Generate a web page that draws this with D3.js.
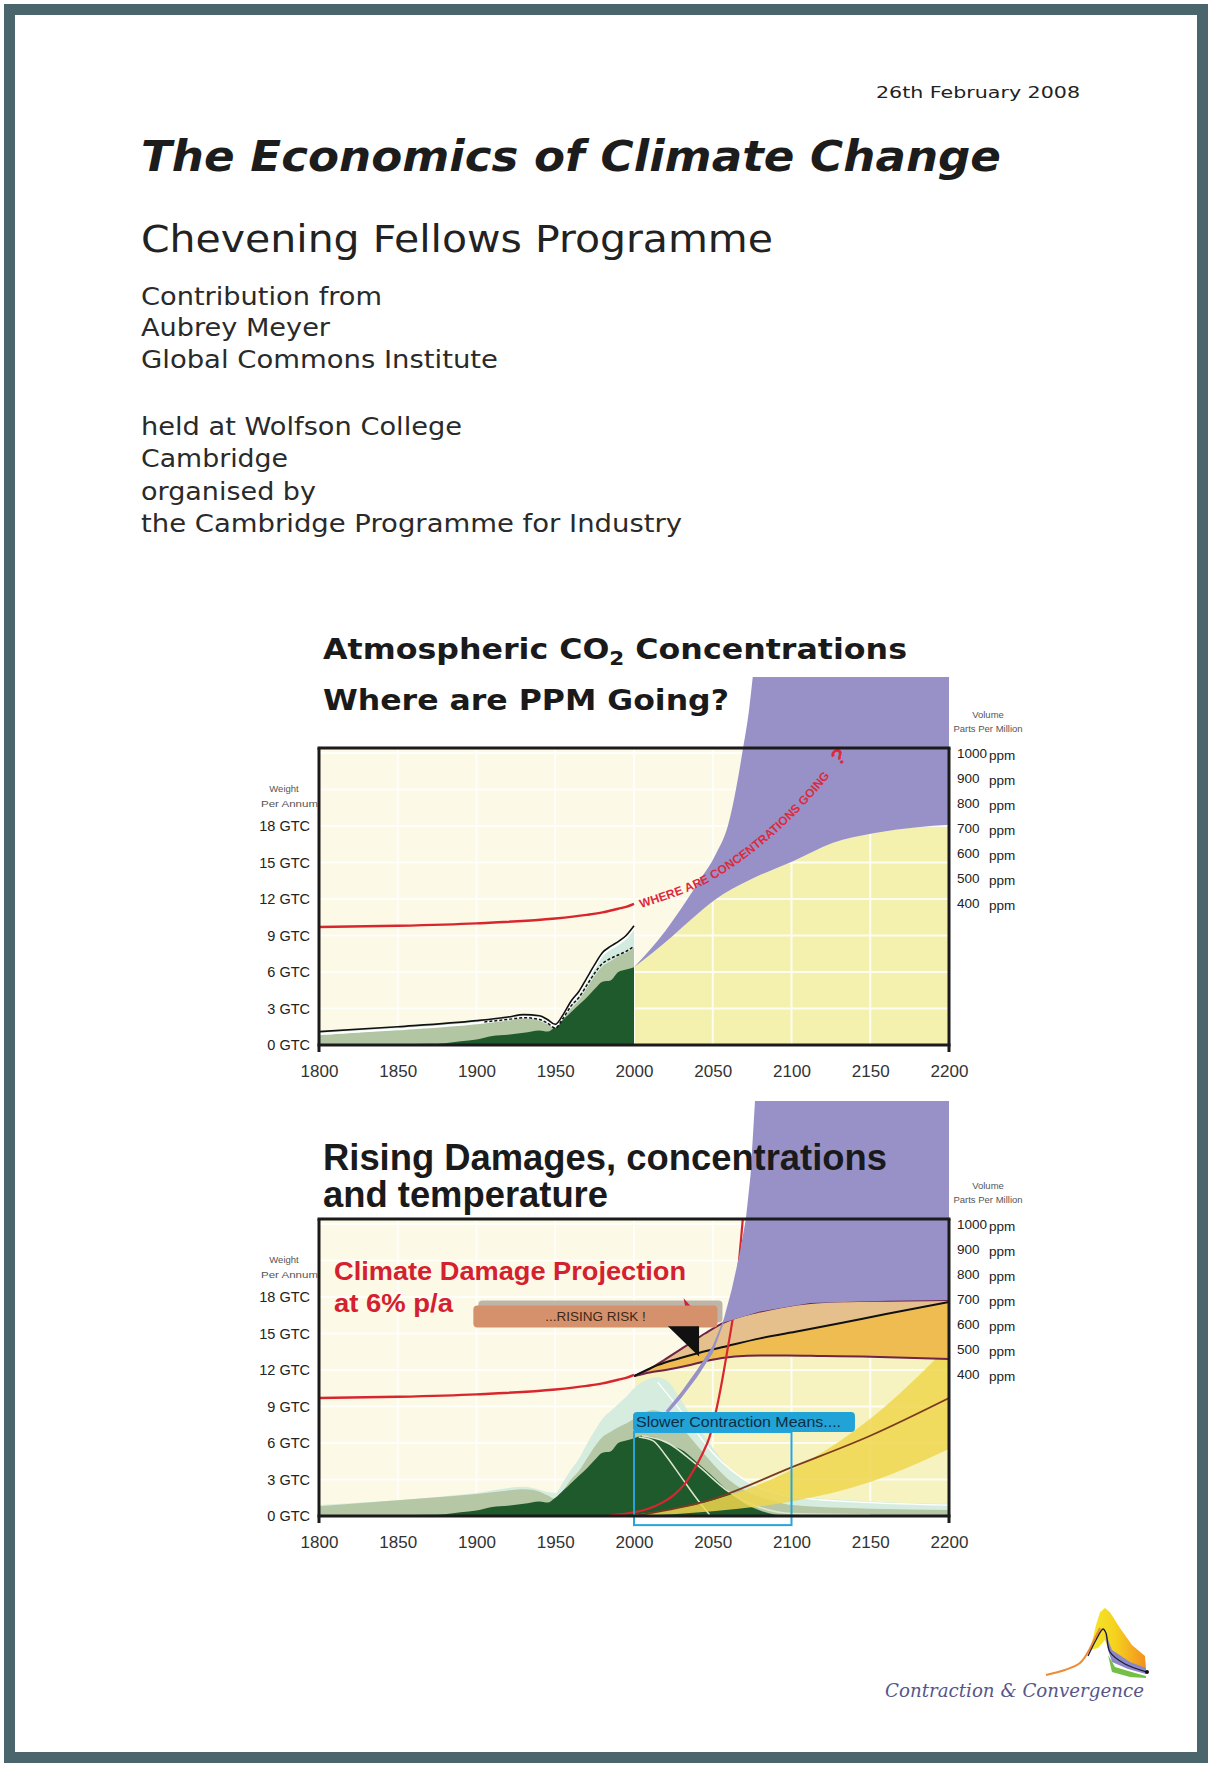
<!DOCTYPE html>
<html><head><meta charset="utf-8">
<script src="https://cdn.jsdelivr.net/npm/d3@7"></script>
<style>
html,body{margin:0;padding:0;background:#fff;}
svg{display:block;}
</style></head><body>
<svg id="c" width="1214" height="1766"></svg>
<script>
// ---------------- DATA ----------------
const yearTicks = [1800,1850,1900,1950,2000,2050,2100,2150,2200];
const gtcTicks = [0,3,6,9,12,15,18];
const gridGtc = [3,6,9,12,15,18,21,24];
const gridYears = [1850,1900,1950,2000,2050,2100,2150];
const ppmTicks = [1000,900,800,700,600,500,400];

// historical emissions (GtC per annum)
const fossilHist = [[1800,0],[1850,0.05],[1870,0.1],[1880,0.15],[1890,0.3],[1900,0.45],[1910,0.75],[1920,0.85],[1930,1.0],[1940,1.2],[1945,1.1],[1950,1.5],[1955,2.1],[1960,2.7],[1965,3.3],[1970,3.9],[1975,4.6],[1980,5.2],[1985,5.3],[1990,6.0],[1995,6.2],[2000,6.4]];
const totalHist = [[1800,0.8],[1850,1.3],[1900,1.8],[1920,2.1],[1930,2.2],[1940,2.0],[1945,1.7],[1950,1.4],[1955,2.1],[1960,3.0],[1965,3.7],[1970,4.7],[1975,5.7],[1980,6.5],[1985,6.9],[1990,7.3],[1995,7.6],[2000,8.0]];
const blackSolid = [[1800,1.1],[1850,1.5],[1900,2.0],[1920,2.3],[1930,2.5],[1940,2.4],[1945,2.1],[1950,1.7],[1955,2.5],[1960,3.6],[1965,4.4],[1970,5.5],[1975,6.6],[1980,7.6],[1985,8.1],[1990,8.5],[1995,9.0],[2000,9.8]];
const blackDashed = [[1905,1.9],[1920,2.1],[1930,2.25],[1940,2.1],[1945,1.8],[1950,1.4],[1955,2.2],[1960,3.2],[1965,3.9],[1970,4.9],[1975,5.9],[1980,6.7],[1985,7.1],[1990,7.4],[1995,7.7],[2000,8.1]];
const concHist = [[1800,9.7],[1850,9.8],[1900,10.0],[1950,10.4],[1970,10.7],[1980,10.9],[1990,11.2],[1995,11.35],[2000,11.6]];

// chart 1 projections
const yellowTop1 = [[2000,6.4],[2012,7.6],[2024,8.9],[2037,10.4],[2051,11.9],[2074,13.6],[2101,15.1],[2126,16.6],[2152,17.4],[2180,17.9],[2200,18.1]];
const purpleEdge1 = [[2000,6.4],[2010,7.8],[2020,9.4],[2032,11.6],[2042,13.6],[2052,15.7],[2060,18.2],[2065,21.2],[2069,24.2],[2073,27.5],[2076,31]];
const whereCurve = [[2002,11.5],[2042,13.4],[2075,16.2],[2104,19.6],[2128,23.2]];

// chart 2 projections
const fossilFuture2 = [[2005,6.6],[2012,6.5],[2020,6.0],[2032,5.3],[2040,4.4],[2048,3.5],[2056,2.5],[2064,1.6],[2072,0.9],[2080,0.45],[2090,0.1],[2100,0]];
const totalFuture2 = [[2005,8.4],[2012,8.7],[2020,8.4],[2030,7.3],[2040,5.8],[2050,4.3],[2060,3.0],[2075,1.8],[2090,1.2],[2100,0.9],[2150,0.6],[2200,0.5]];
const mint2 = [[1800,0.9],[1900,1.9],[1930,2.4],[1950,1.9],[1955,2.8],[1960,3.8],[1965,4.7],[1970,5.9],[1975,7.0],[1980,8.0],[1985,8.6],[1990,9.2],[1995,9.8],[2000,10.5],[2008,11.2],[2015,11.4],[2022,11.0],[2030,9.5],[2040,7.5],[2050,5.6],[2060,4.0],[2070,3.0],[2085,2.2],[2100,1.7],[2150,1.2],[2200,1.0]];
const fastContraction = [[2003,6.5],[2012,6.2],[2020,5.0],[2030,3.2],[2040,1.4],[2048,0.1]];
const slowContraction = [[2005,6.6],[2020,6.1],[2040,4.2],[2060,2.0],[2080,0.7],[2100,0.2],[2150,0.1]];
const mintLine2 = [[2015,11.0],[2030,8.6],[2050,5.2],[2075,2.6],[2100,1.6],[2150,1.1],[2200,0.9]];
const fanUpper = [[2000,11.5],[2010,12.1],[2020,12.9],[2032,13.9],[2045,15.0],[2057,15.9],[2070,16.5],[2080,16.8],[2095,17.2],[2112,17.5],[2135,17.65],[2161,17.7],[2200,17.75]];
const fanMid = [[2000,11.5],[2015,12.4],[2030,13.0],[2041,13.4],[2060,14.0],[2080,14.6],[2105,15.2],[2129,15.8],[2160,16.6],[2200,17.6]];
const fanLower = [[2000,11.5],[2010,11.8],[2020,12.0],[2032,12.3],[2048,12.8],[2064,13.1],[2080,13.2],[2097,13.2],[2120,13.15],[2145,13.1],[2200,12.9]];
const purpleEdge2 = [[2020,8.6],[2030,10.2],[2040,12.0],[2050,14.0],[2057,16.2],[2062,18.6],[2067,21.5],[2071,24.4],[2074,28],[2077,34.5]];
const purpleLower2 = [[2200,17.75],[2161,17.7],[2112,17.5],[2080,16.8],[2057,15.9],[2050,13.4],[2040,11.4],[2030,9.7],[2022,8.5]];
const bandUpper = [[2000,0.1],[2050,1.3],[2100,3.8],[2150,8.0],[2200,14.0]];
const bandLower = [[2000,0],[2050,0.4],[2100,1.2],[2150,2.8],[2200,5.5]];
const brownLine = [[2000,0],[2048,1.3],[2100,4.0],[2150,6.6],[2200,9.7]];
const damage6pc = [[1985,0.05],[1995,0.2],[2009,0.6],[2018,1.1],[2025,1.7],[2032,2.6],[2038,3.8],[2043,5.0],[2048,6.5],[2054,9.8],[2059,13.4],[2064,17.5],[2069,24.3],[2072,29]];
const riskPointer = [[2021.5,15.6],[2041.3,15.6],[2041.3,13.1]];
const riskFlag = [[2031.5,17.9],[2033,16.9],[2038.5,16.9]];
const riskBox = [1898, 2053, 17.3, 15.5];
const slowBox = [1999.4, 2140.3, 8.55, 6.9];
const slowRect = [2000, 2100, 6.9, -0.75];

// logo (local 0-100 units)
const logoOrange = [[0,2.8],[18.6,9.7],[33.3,19.4],[41.2,34.7],[48,54],[53,68]];
const logoPeak = [[43.1,37.5],[49,72],[53,90],[57.8,95.8],[62.7,90],[72.5,68],[84.3,44.4],[97,29],[98,12.5],[82.4,12.5],[64.7,23.6],[57.8,51.4],[51,40.3]];
const logoLav = [[57.8,62.5],[64.7,37.5],[82.4,20.8],[98,12.5],[98,4.2],[80.4,11.1],[64.7,20.8],[60.8,37.5]];
const logoGreen = [[60.8,30.6],[67.6,13.9],[87.3,5.6],[98,1.4],[98,-1.4],[82.4,0],[64.7,6.9]];
const logoBlack = [[41.2,29.2],[49,51.4],[55.9,66.7],[58.8,61.1],[62.7,34.7],[77.5,18],[99,6.9]];

// ---------------- DRAW ----------------
const svg = d3.select("#c");
const SANS = "'Liberation Sans', Arial, sans-serif";
const DV = "'DejaVu Sans', Verdana, sans-serif";
const defs = svg.append("defs");

svg.append("rect").attr("x",9.5).attr("y",9.5).attr("width",1193).attr("height",1748)
  .attr("fill","#fff").attr("stroke","#4a656c").attr("stroke-width",11);

const X = d3.scaleLinear().domain([1800,2200]).range([319,949]);

function txt(x,y,s,size,opts={}){
  const t = svg.append("text").attr("x",x).attr("y",y).text(s)
    .attr("font-size",size).attr("font-family",opts.family||DV)
    .attr("fill",opts.fill||"#1a1a1a");
  if(opts.weight) t.attr("font-weight",opts.weight);
  if(opts.style) t.attr("font-style",opts.style);
  if(opts.anchor) t.attr("text-anchor",opts.anchor);
  if(opts.len) t.attr("textLength",opts.len).attr("lengthAdjust","spacingAndGlyphs");
  return t;
}

// header
txt(876,98,"26th February 2008",16,{len:204,fill:"#222"});
txt(141,171,"The Economics of Climate Change",42,{weight:"bold",style:"italic",len:860,fill:"#1c1c1c"});
txt(141,252,"Chevening Fellows Programme",37,{len:632,fill:"#222"});
const body = ["Contribution from","Aubrey Meyer","Global Commons Institute","held at Wolfson College","Cambridge","organised by","the Cambridge Programme for Industry"];
const bodyY = [305,336,368,435,467,500,532];
const bodyW = [241,189,357,321,147,175,541];
body.forEach((s,i)=>txt(141,bodyY[i],s,25,{len:bodyW[i],fill:"#2a2a2a"}));

function makeChart(cfg){
  const Y = d3.scaleLinear().domain([0,18]).range([cfg.bottom, cfg.bottom-219]);
  const P = d3.scaleLinear().domain([400,1000]).range([cfg.bottom-142, cfg.bottom-292]);
  const g = svg.append("g");
  const id = cfg.id;
  defs.append("clipPath").attr("id","plot"+id).append("rect")
    .attr("x",319).attr("y",cfg.top).attr("width",630).attr("height",cfg.bottom-cfg.top);
  defs.append("clipPath").attr("id","pur"+id).append("rect")
    .attr("x",319).attr("y",cfg.purpleTop).attr("width",630).attr("height",cfg.bottom-cfg.purpleTop);
  const line = d3.line().x(d=>X(d[0])).y(d=>Y(d[1])).curve(d3.curveMonotoneX);
  const area0 = d3.area().x(d=>X(d[0])).y0(Y(0)).y1(d=>Y(d[1])).curve(d3.curveMonotoneX);
  g.append("rect").attr("x",319).attr("y",cfg.top).attr("width",630).attr("height",cfg.bottom-cfg.top).attr("fill","#fcf9e6");
  const plot = g.append("g").attr("clip-path",`url(#plot${id})`);
  function grid(parent){
    const gg = parent.append("g").attr("stroke","#ffffff").attr("stroke-width",2).attr("opacity",0.85);
    gg.selectAll("line.h").data(gridGtc).join("line").attr("x1",319).attr("x2",949).attr("y1",d=>Y(d)).attr("y2",d=>Y(d));
    gg.selectAll("line.v").data(gridYears).join("line").attr("y1",cfg.top).attr("y2",cfg.bottom).attr("x1",d=>X(d)).attr("x2",d=>X(d));
  }
  return {Y,P,g,plot,line,area0,grid};
}

function frameAndAxes(c, cfg){
  const {Y,P,g} = c;
  const fr = g.append("g").attr("stroke","#1b1b1b").attr("stroke-width",3);
  fr.append("line").attr("x1",317.5).attr("x2",950.5).attr("y1",cfg.top).attr("y2",cfg.top);
  fr.append("line").attr("x1",317.5).attr("x2",950.5).attr("y1",cfg.bottom).attr("y2",cfg.bottom);
  fr.append("line").attr("x1",319).attr("x2",319).attr("y1",cfg.top).attr("y2",cfg.bottom+7);
  fr.append("line").attr("x1",949).attr("x2",949).attr("y1",cfg.top).attr("y2",cfg.bottom+7);
  const ax = g.append("g").attr("transform",`translate(0,${cfg.bottom})`)
    .call(d3.axisBottom(X).tickValues(yearTicks).tickFormat(d3.format("d")).tickSize(0).tickPadding(20));
  ax.select(".domain").remove();
  ax.selectAll("text").attr("font-size",17).attr("font-family",SANS).attr("fill","#333");
  const ay = g.append("g").attr("transform","translate(310,0)")
    .call(d3.axisLeft(Y).tickValues(gtcTicks).tickFormat(d=>d+" GTC").tickSize(0).tickPadding(0));
  ay.select(".domain").remove();
  ay.selectAll("text").attr("font-size",14.5).attr("font-family",SANS).attr("fill","#222");
  g.selectAll("text.pn").data(ppmTicks).join("text").attr("class","pn")
    .attr("x",957).attr("y",d=>P(d)+5).text(d=>d).attr("font-size",13.5).attr("font-family",SANS).attr("fill","#222");
  g.selectAll("text.pu").data(ppmTicks).join("text").attr("class","pu")
    .attr("x",989).attr("y",d=>P(d)+7).text("ppm").attr("font-size",13.5).attr("font-family",SANS).attr("fill","#222");
  const t1 = cfg.bottom-330;
  g.append("text").attr("x",988).attr("y",t1+3).attr("text-anchor","middle").text("Volume").attr("font-size",9.5).attr("font-family",SANS).attr("fill","#555");
  g.append("text").attr("x",988).attr("y",t1+17).attr("text-anchor","middle").text("Parts Per Million").attr("font-size",9.5).attr("font-family",SANS).attr("fill","#555");
  g.append("text").attr("x",284).attr("y",t1+77).attr("text-anchor","middle").text("Weight").attr("font-size",9.5).attr("font-family",SANS).attr("fill","#555");
  g.append("text").attr("x",318).attr("y",t1+92).attr("text-anchor","end").text("Per Annum").attr("font-size",9.5).attr("font-family",SANS).attr("fill","#555")
    .attr("textLength",57).attr("lengthAdjust","spacingAndGlyphs");
}

// ===== Chart 1 =====
const cfg1 = {id:1, top:748, bottom:1045, purpleTop:677};
const c1 = makeChart(cfg1);
{
  const {Y,plot,line,area0,g} = c1;
  plot.append("path").datum(yellowTop1).attr("d",area0).attr("fill","#f4f1ae");
  const purPath = line(purpleEdge1) + "L" + X(2200) + "," + Y(31) + "L" + X(2200) + "," + Y(18.1) +
     line(yellowTop1.slice().reverse()).replace(/^M/,"L") + "Z";
  g.append("path").attr("clip-path","url(#pur1)").attr("d",purPath).attr("fill","#9891c8");
  c1.grid(plot);
  plot.append("path").datum(totalHist).attr("d",area0).attr("fill","#b3c6a3");
  const band = d3.area().x(d=>X(d[0])).y0((d,i)=>Y(totalHist[i][1])).y1(d=>Y(d[1])).curve(d3.curveMonotoneX);
  plot.append("path").datum(blackSolid).attr("d",band).attr("fill","#d3eadf");
  plot.append("path").datum(fossilHist).attr("d",area0).attr("fill","#1f5a2c");
  plot.append("path").datum(blackSolid).attr("d",line).attr("fill","none").attr("stroke","#fff").attr("stroke-width",2).attr("transform","translate(0,2.5)");
  plot.append("path").datum(blackSolid).attr("d",line).attr("fill","none").attr("stroke","#111").attr("stroke-width",1.6);
  plot.append("path").datum(blackDashed).attr("d",line).attr("fill","none").attr("stroke","#111").attr("stroke-width",1.5).attr("stroke-dasharray","3,2");
  plot.append("path").datum(concHist).attr("d",line).attr("fill","none").attr("stroke","#d9262e").attr("stroke-width",2.4);
  defs.append("path").attr("id","whereP").attr("d",d3.line().x(d=>X(d[0])).y(d=>Y(d[1])).curve(d3.curveCatmullRom)(whereCurve));
  g.append("text").attr("font-size",12).attr("font-weight","bold").attr("font-family",SANS).attr("fill","#dc2a3c")
    .attr("dy",4).append("textPath").attr("href","#whereP").attr("startOffset",3).text("WHERE ARE CONCENTRATIONS GOING");
  const last = whereCurve[whereCurve.length-1];
  g.append("text").attr("x",X(last[0])+2).attr("y",Y(last[1])+4).attr("font-size",22).attr("font-weight","bold")
    .attr("font-family",SANS).attr("fill","#dc2a3c").attr("transform",`rotate(-35,${X(last[0])+2},${Y(last[1])+4})`).text("?");
  frameAndAxes(c1,cfg1);
}
// titles chart 1
{
  const t = svg.append("text").attr("x",323).attr("y",659).attr("font-size",28).attr("font-weight","bold")
    .attr("font-family",DV).attr("fill","#1a1a1a").attr("textLength",584).attr("lengthAdjust","spacingAndGlyphs");
  t.append("tspan").text("Atmospheric CO");
  t.append("tspan").attr("font-size",19).attr("dy",6).text("2");
  t.append("tspan").attr("dy",-6).text(" Concentrations");
  txt(323,710,"Where are PPM Going?",28,{weight:"bold",len:406});
}

// ===== Chart 2 =====
const cfg2 = {id:2, top:1219, bottom:1516, purpleTop:1101};
const c2 = makeChart(cfg2);
{
  const {Y,plot,line,area0,g} = c2;
  plot.append("path").datum(fanLower).attr("d",area0).attr("fill","#f6f3c0");
  c2.grid(plot);
  plot.append("path").datum(mint2).attr("d",area0).attr("fill","#d6ecdf");
  plot.append("path").datum(totalHist.concat(totalFuture2)).attr("d",area0).attr("fill","#b5c7a5");
  plot.append("path").datum(fossilHist.concat(fossilFuture2)).attr("d",area0).attr("fill","#1f5a2c");
  [fastContraction, slowContraction].forEach(a=>plot.append("path").datum(a).attr("d",line).attr("fill","none").attr("stroke","#dfe8cf").attr("stroke-width",1.5));
  plot.append("path").datum(mintLine2).attr("d",line).attr("fill","none").attr("stroke","#ffffff").attr("stroke-width",1.3);
  // purple
  const pp = "M" + purpleEdge2.map(d=>X(d[0])+","+Y(d[1])).join("L") + "L" + X(2200)+","+Y(34.5) + "L" + purpleLower2.map(d=>X(d[0])+","+Y(d[1])).join("L") + "Z";
  const purG = g.append("g").attr("clip-path","url(#pur2)");
  purG.append("path").attr("d",pp).attr("fill","#9891c8");
  // lighter strip where the purple passes over the emissions
  defs.append("clipPath").attr("id","purShape2").append("path").attr("d",pp);
  const pg = plot.append("g").attr("clip-path","url(#purShape2)");
  pg.append("path").datum(mint2).attr("d",area0).attr("fill","#ffffff").attr("opacity",0.35);
  c2.grid(pg);
  // yellow band
  const bandA = d3.area().x(d=>X(d[0])).y0((d,i)=>Y(bandLower[i][1])).y1(d=>Y(d[1])).curve(d3.curveMonotoneX);
  plot.append("path").datum(bandUpper).attr("d",bandA).attr("fill","#f0d64e").attr("opacity",0.85);
  plot.append("path").datum(brownLine).attr("d",line).attr("fill","none").attr("stroke","#7a3b1e").attr("stroke-width",1.8);
  // fan
  const fanA1 = d3.area().x(d=>X(d[0])).y0((d,i)=>Y(fanMid[i][1])).y1(d=>Y(d[1])).curve(d3.curveMonotoneX);
  const upI = d3.scaleLinear().domain(fanUpper.map(e=>e[0])).range(fanUpper.map(e=>e[1]));
  const loI = d3.scaleLinear().domain(fanLower.map(e=>e[0])).range(fanLower.map(e=>e[1]));
  const fanUpperI = fanMid.map(d=>[d[0], upI(d[0])]);
  const fanLowerI = fanMid.map(d=>[d[0], loI(d[0])]);
  plot.append("path").datum(fanUpperI).attr("d",fanA1).attr("fill","#e6c08c");
  const fanA2 = d3.area().x(d=>X(d[0])).y0((d,i)=>Y(fanLowerI[i][1])).y1(d=>Y(d[1])).curve(d3.curveMonotoneX);
  plot.append("path").datum(fanMid).attr("d",fanA2).attr("fill","#efbc52");
  plot.append("path").datum(fanUpper).attr("d",line).attr("fill","none").attr("stroke","#6e2347").attr("stroke-width",2);
  plot.append("path").datum(fanLower).attr("d",line).attr("fill","none").attr("stroke","#6e2347").attr("stroke-width",2);
  plot.append("path").datum(fanMid).attr("d",line).attr("fill","none").attr("stroke","#111").attr("stroke-width",2);
  plot.append("path").datum(concHist).attr("d",line).attr("fill","none").attr("stroke","#d9262e").attr("stroke-width",2.4);
  plot.append("path").datum(damage6pc).attr("d",line).attr("fill","none").attr("stroke","#d9262e").attr("stroke-width",2.2);
  // blue box
  g.append("rect").attr("x",X(slowRect[0])).attr("y",Y(slowRect[2])).attr("width",X(slowRect[1])-X(slowRect[0]))
    .attr("height",Y(slowRect[3])-Y(slowRect[2])).attr("fill","none").attr("stroke","#27a5da").attr("stroke-width",2);
  g.append("rect").attr("x",X(slowBox[0])).attr("y",Y(slowBox[2])).attr("width",X(slowBox[1])-X(slowBox[0]))
    .attr("height",Y(slowBox[3])-Y(slowBox[2])).attr("rx",4).attr("fill","#22a3d8");
  g.append("text").attr("x",X(slowBox[0])+3).attr("y",(Y(slowBox[2])+Y(slowBox[3]))/2+5).text("Slower Contraction Means....")
    .attr("font-size",14.5).attr("font-family",SANS).attr("fill","#0f2d44").attr("textLength",205).attr("lengthAdjust","spacingAndGlyphs");
  // risk label
  g.append("rect").attr("x",X(riskBox[0])+5).attr("y",Y(riskBox[2])-5).attr("width",X(riskBox[1])-X(riskBox[0]))
    .attr("height",Y(riskBox[3])-Y(riskBox[2])).attr("rx",4).attr("fill","#bdb5aa");
  g.append("path").attr("d","M"+riskFlag.map(d=>X(d[0])+","+Y(d[1])).join("L")+"Z").attr("fill","#c8243a");
  g.append("rect").attr("x",X(riskBox[0])).attr("y",Y(riskBox[2])).attr("width",X(riskBox[1])-X(riskBox[0]))
    .attr("height",Y(riskBox[3])-Y(riskBox[2])).attr("rx",4).attr("fill","#d4916b");
  g.append("text").attr("x",(X(riskBox[0])+X(riskBox[1]))/2).attr("y",(Y(riskBox[2])+Y(riskBox[3]))/2+5)
    .attr("text-anchor","middle").text("...RISING RISK !").attr("font-size",13.5).attr("font-family",SANS).attr("fill","#3d2818");
  g.append("path").attr("d","M"+riskPointer.map(d=>X(d[0])+","+Y(d[1])).join("L")+"Z").attr("fill","#111");
  frameAndAxes(c2,cfg2);
}
txt(323,1170,"Rising Damages, concentrations",36,{family:SANS,weight:"bold",len:564});
txt(323,1207,"and temperature",36,{family:SANS,weight:"bold",len:285});
txt(334,1280,"Climate Damage Projection",26,{family:SANS,weight:"bold",len:352,fill:"#d4202f"});
txt(334,1312,"at 6% p/a",26,{family:SANS,weight:"bold",len:119,fill:"#d4202f"});

// ===== Logo =====
{
  const lx = d3.scaleLinear().domain([0,100]).range([1046,1148]);
  const ly = d3.scaleLinear().domain([0,100]).range([1677,1605]);
  const grad = defs.append("linearGradient").attr("id","lg").attr("x1","0").attr("x2","1").attr("y1","0").attr("y2","0");
  grad.append("stop").attr("offset","0").attr("stop-color","#f2ea2c");
  grad.append("stop").attr("offset","0.45").attr("stop-color","#f5d21e");
  grad.append("stop").attr("offset","1").attr("stop-color","#f2901e");
  const poly = a => "M"+a.map(d=>lx(d[0])+","+ly(d[1])).join("L")+"Z";
  const pl = d3.line().x(d=>lx(d[0])).y(d=>ly(d[1])).curve(d3.curveCatmullRom);
  svg.append("path").attr("d",poly(logoPeak)).attr("fill","url(#lg)");
  svg.append("path").attr("d",poly(logoLav)).attr("fill","#8c88c6");
  svg.append("path").attr("d",poly(logoGreen)).attr("fill","#74bf45");
  svg.append("path").attr("d",pl(logoOrange)).attr("fill","none").attr("stroke","#f08a34").attr("stroke-width",2);
  svg.append("path").attr("d",pl(logoBlack)).attr("fill","none").attr("stroke","#1a1a40").attr("stroke-width",1.3);
  const e = logoBlack[logoBlack.length-1];
  svg.append("circle").attr("cx",lx(e[0])).attr("cy",ly(e[1])).attr("r",2).attr("fill","#111");
  txt(885,1697,"Contraction & Convergence",18,{family:"'DejaVu Serif', serif",style:"italic",len:259,fill:"#56568a"});
}
</script>
</body></html>
